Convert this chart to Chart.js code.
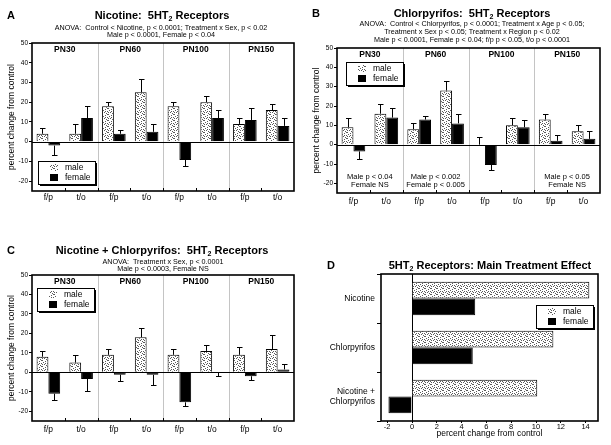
<!DOCTYPE html>
<html>
<head>
<meta charset="utf-8">
<script src="https://cdn.jsdelivr.net/npm/chart.js@4.4.0/dist/chart.umd.min.js"></script>
<style>
  body { margin: 0; background: #fff; }
  #wrap { position: relative; width: 611px; height: 445px; font-family: 'Liberation Sans', Arial, sans-serif; color: #000; }
  canvas { position: absolute; }
  .t { position: absolute; white-space: nowrap; transform: translate(-50%, -50%); text-align: center; }
  .ttl { font-weight: bold; font-size: 11px; }
  .sub { font-size: 7.2px; line-height: 7.8px; }
  .let { position: absolute; font-weight: bold; font-size: 11px; transform: translateY(-50%); }
  .ttl sub { font-size: 7px; vertical-align: -2px; line-height: 0; }
</style>
</head>
<body>
<div id="wrap">
  <canvas id="A" width="305" height="222" style="left:0;top:0"></canvas>
  <canvas id="B" width="306" height="222" style="left:305px;top:0"></canvas>
  <canvas id="C" width="305" height="223" style="left:0;top:222px"></canvas>
  <canvas id="D" width="306" height="223" style="left:305px;top:222px"></canvas>

  <div class="let" style="left:7px;top:15px">A</div>
  <div class="t ttl" style="left:162px;top:15px">Nicotine:&nbsp; 5HT<sub>2</sub> Receptors</div>
  <div class="t sub" style="left:161px;top:31.5px">ANOVA:&nbsp; Control &lt; Nicotine, p &lt; 0.0001; Treatment x Sex, p &lt; 0.02<br>Male p &lt; 0.0001, Female p &lt; 0.04</div>

  <div class="let" style="left:312px;top:13px">B</div>
  <div class="t ttl" style="left:472px;top:13px">Chlorpyrifos:&nbsp; 5HT<sub>2</sub> Receptors</div>
  <div class="t sub" style="left:472px;top:32px">ANOVA:&nbsp; Control &lt; Chlorpyrifos, p &lt; 0.0001; Treatment x Age p &lt; 0.05;<br>Treatment x Sex p &lt; 0.05; Treatment x Region p &lt; 0.02<br>Male p &lt; 0.0001, Female p &lt; 0.04; f/p p &lt; 0.05, t/o p &lt; 0.0001</div>

  <div class="let" style="left:7px;top:250px">C</div>
  <div class="t ttl" style="left:162px;top:250px">Nicotine + Chlorpyrifos:&nbsp; 5HT<sub>2</sub> Receptors</div>
  <div class="t sub" style="left:163px;top:265.7px">ANOVA:&nbsp; Treatment x Sex, p &lt; 0.0001<br>Male p &lt; 0.0003, Female NS</div>

  <div class="let" style="left:327px;top:265px">D</div>
  <div class="t ttl" style="left:490px;top:265px">5HT<sub>2</sub> Receptors: Main Treatment Effect</div>
</div>
<script>
// panels A-C: two regions per age group
const categories = ['f/p', 't/o', 'f/p', 't/o', 'f/p', 't/o', 'f/p', 't/o'];
const ageGroups = ['PN30', 'PN60', 'PN100', 'PN150'];
const yTicks = [-20, -10, 0, 10, 20, 30, 40, 50];

// A: nicotine (error = one-sided SEM, away from zero)
const nicMale = [4, 4, 18, 25, 18, 20, 9, 16];
const nicMaleErr = [3, 5, 2, 7, 2, 3, 3, 3];
const nicFemale = [-2, 12, 4, 5, -9.3, 12, 11, 8];
const nicFemaleErr = [5, 6, 2, 4, 3, 4, 6, 4];

// B: chlorpyrifos
const cpfMale = [9, 16, 8, 28, 0, 10, 13, 7];
const cpfMaleErr = [5, 5, 3, 5, 4, 4, 3, 3];
const cpfFemale = [-3.5, 14, 13, 11, -10.5, 9, 2, 3];
const cpfFemaleErr = [4, 5, 2, 5, 2.8, 4, 3, 4];

// C: nicotine + chlorpyrifos
const bothMale = [8, 5, 9, 18, 9, 11, 9, 12];
const bothMaleErr = [3, 4, 3, 5, 3, 3, 4, 7];
const bothFemale = [-11, -3.4, -1.2, -1.3, -15.4, -0.3, -2, 1.5];
const bothFemaleErr = [3.3, 6, 3, 5, 2, 1.4, 1.7, 3];

// D: main treatment effect
const treatments = ['Nicotine', 'Chlorpyrifos', ['Nicotine +', 'Chlorpyrifos']];
const mainMale = [14.3, 11.4, 10.1];
const mainFemale = [5.1, 4.9, -1.9];
const xTicksD = [-2, 0, 2, 4, 6, 8, 10, 12, 14];

const notesB = [
  { group: 0, lines: ['Male p < 0.04', 'Female NS'] },
  { group: 1, lines: ['Male p < 0.002', 'Female p < 0.005'] },
  { group: 3, lines: ['Male p < 0.05', 'Female NS'] }
];

Chart.defaults.font.family = "'Liberation Sans', Arial, sans-serif";
Chart.defaults.color = '#000';
const FONT = "'Liberation Sans', Arial, sans-serif";

// stippled fill for male bars
function stipple() {
  const c = document.createElement('canvas');
  c.width = 6; c.height = 6;
  const g = c.getContext('2d');
  g.fillStyle = '#fff';
  g.fillRect(0, 0, 6, 6);
  g.fillStyle = '#5a5a5a';
  [[0, 0], [3, 1], [1, 2], [5, 3], [2, 4], [4, 5], [0, 4], [5, 0], [3, 3]].forEach(p => g.fillRect(p[0], p[1], 1, 1));
  return g.createPattern(c, 'repeat');
}
const dots = stipple();

// extra drawing per panel (legend spot etc)
const extras = {
  A: { groups: ageGroups, legend: { fromBottom: 30, dx: 6 } },
  B: { groups: ageGroups, legend: { dy: 14, dx: 9 }, notes: notesB },
  C: { groups: ageGroups, legend: { dy: 13, dx: 5 } },
  D: { horizontal: true, legend: { dy: 31, fromRight: 62 } }
};

function seg(ctx, x1, y1, x2, y2) {
  ctx.beginPath(); ctx.moveTo(x1, y1); ctx.lineTo(x2, y2); ctx.stroke();
}

function drawLegend(ctx, x, y) {
  const w = 57, h = 23;
  ctx.fillStyle = '#000';
  ctx.fillRect(x + 2, y + 2, w, h);
  ctx.fillStyle = '#fff';
  ctx.fillRect(x, y, w, h);
  ctx.strokeStyle = '#000'; ctx.lineWidth = 1;
  ctx.strokeRect(x + 0.5, y + 0.5, w, h);
  ctx.fillStyle = dots;
  ctx.fillRect(x + 12, y + 3, 8, 7);
  ctx.fillStyle = '#000';
  ctx.fillRect(x + 12, y + 13, 8, 7);
  ctx.font = '8.5px ' + FONT;
  ctx.textAlign = 'left'; ctx.textBaseline = 'middle';
  ctx.fillText('male', x + 27, y + 7);
  ctx.fillText('female', x + 27, y + 17);
}

const decor = {
  id: 'decor',
  beforeDatasetsDraw(chart) {
    const o = extras[chart.canvas.id];
    const { ctx, chartArea: a } = chart;
    const xs = chart.scales.x, ys = chart.scales.y;
    ctx.save();
    if (o.groups) {
      ctx.strokeStyle = '#c4c4c4'; ctx.lineWidth = 1;
      for (let g = 1; g < o.groups.length; g++) {
        const x = Math.round((xs.getPixelForValue(2 * g - 1) + xs.getPixelForValue(2 * g)) / 2) + 0.5;
        seg(ctx, x, a.top, x, a.bottom);
      }
    }
    ctx.strokeStyle = '#000'; ctx.lineWidth = 1;
    if (o.horizontal) {
      const x = Math.round(xs.getPixelForValue(0)) + 0.5;
      seg(ctx, x, a.top, x, a.bottom);
    } else {
      const y = Math.round(ys.getPixelForValue(0)) + 0.5;
      seg(ctx, a.left, y, a.right, y);
    }
    ctx.restore();
  },
  afterDatasetsDraw(chart) {
    const o = extras[chart.canvas.id];
    const { ctx, chartArea: a } = chart;
    const xs = chart.scales.x, ys = chart.scales.y;
    ctx.save();
    ctx.strokeStyle = '#000'; ctx.lineWidth = 1;

    // one-sided error bars
    chart.data.datasets.forEach((ds, i) => {
      if (!ds.err) return;
      chart.getDatasetMeta(i).data.forEach((bar, j) => {
        const v = ds.data[j];
        const s = v < 0 ? -1 : 1;
        const y1 = Math.round(ys.getPixelForValue(v + s * ds.err[j])) + 0.5;
        const x = Math.round(bar.x) + 0.5;
        seg(ctx, x, bar.y, x, y1);
        seg(ctx, x - 2.5, y1, x + 3, y1);
      });
    });

    // inward ticks between categories
    if (o.groups) {
      for (let i = 0; i < categories.length - 1; i++) {
        const x = Math.round((xs.getPixelForValue(i) + xs.getPixelForValue(i + 1)) / 2) + 0.5;
        seg(ctx, x, a.bottom, x, a.bottom - 3);
      }
      ctx.fillStyle = '#000';
      ctx.font = 'bold 8.5px ' + FONT;
      ctx.textAlign = 'center'; ctx.textBaseline = 'middle';
      o.groups.forEach((g, k) => {
        const x = (xs.getPixelForValue(2 * k) + xs.getPixelForValue(2 * k + 1)) / 2;
        ctx.fillText(g, x, a.top + 7);
      });
    }

    if (o.notes) {
      ctx.font = '7.5px ' + FONT;
      ctx.textAlign = 'center'; ctx.textBaseline = 'middle';
      o.notes.forEach(n => {
        const x = (xs.getPixelForValue(2 * n.group) + xs.getPixelForValue(2 * n.group + 1)) / 2;
        ctx.fillText(n.lines[0], x, a.bottom - 16);
        ctx.fillText(n.lines[1], x, a.bottom - 8);
      });
    }

    // frame
    ctx.lineWidth = 1.6;
    ctx.strokeRect(a.left, a.top, a.width, a.height);

    const L = o.legend;
    const lx = L.fromRight ? a.right - L.fromRight : a.left + L.dx;
    const ly = L.fromBottom ? a.bottom - L.fromBottom : a.top + L.dy;
    drawLegend(ctx, Math.round(lx), Math.round(ly));
    ctx.restore();
  }
};

function barPanel(id, male, maleErr, female, femaleErr, lay) {
  return new Chart(document.getElementById(id), {
    type: 'bar',
    data: {
      labels: categories,
      datasets: [
        { label: 'male', data: male, err: maleErr, backgroundColor: dots, borderColor: '#000', borderWidth: 1 },
        { label: 'female', data: female, err: femaleErr, backgroundColor: '#000', borderColor: '#000', borderWidth: 1 }
      ]
    },
    options: {
      responsive: false,
      animation: false,
      categoryPercentage: 0.72,
      barPercentage: 1,
      layout: { padding: { top: lay.top, right: 11, left: 0, bottom: 0 } },
      plugins: { legend: { display: false }, tooltip: { enabled: false } },
      scales: {
        x: {
          grid: { display: false, drawTicks: false },
          border: { display: false },
          ticks: { font: { size: 8.5 }, padding: lay.xpad, maxRotation: 0, autoSkip: false },
          afterFit: s => { s.height = lay.xh; }
        },
        y: {
          min: -25, max: 50,
          afterBuildTicks: s => { s.ticks = yTicks.map(v => ({ value: v })); },
          ticks: { font: { size: 6.5 }, padding: 1 },
          grid: { drawOnChartArea: false, tickLength: 3, color: '#000' },
          border: { display: false },
          title: { display: true, text: 'percent change from control', font: { size: 8.5 }, padding: { top: 7, bottom: 0 } },
          afterFit: s => { s.width = 32; }
        }
      }
    },
    plugins: [decor]
  });
}

barPanel('A', nicMale, nicMaleErr, nicFemale, nicFemaleErr, { top: 43, xh: 31, xpad: 2 });
barPanel('B', cpfMale, cpfMaleErr, cpfFemale, cpfFemaleErr, { top: 48, xh: 29, xpad: 4 });
barPanel('C', bothMale, bothMaleErr, bothFemale, bothFemaleErr, { top: 53, xh: 24, xpad: 4 });

new Chart(document.getElementById('D'), {
  type: 'bar',
  data: {
    labels: treatments,
    datasets: [
      { label: 'male', data: mainMale, backgroundColor: dots, borderColor: '#000', borderWidth: 1 },
      { label: 'female', data: mainFemale, backgroundColor: '#000', borderColor: '#000', borderWidth: 1 }
    ]
  },
  options: {
    indexAxis: 'y',
    responsive: false,
    animation: false,
    categoryPercentage: 0.68,
    barPercentage: 1,
    layout: { padding: { top: 52, right: 13, left: 0, bottom: 0 } },
    plugins: { legend: { display: false }, tooltip: { enabled: false } },
    scales: {
      x: {
        min: -2.5, max: 15,
        afterBuildTicks: s => { s.ticks = xTicksD.map(v => ({ value: v })); },
        ticks: { font: { size: 7.5 }, padding: -1 },
        grid: { drawOnChartArea: false, tickLength: 2, color: '#000' },
        border: { display: false },
        title: { display: true, text: 'percent change from control', font: { size: 8.5 }, padding: { top: 0, bottom: 6 } },
        afterFit: s => { s.height = 24; }
      },
      y: {
        grid: { drawOnChartArea: false, tickLength: 4, color: '#000', offset: true },
        border: { display: false },
        ticks: { font: { size: 8.5 }, padding: 2 },
        afterFit: s => { s.width = 76; }
      }
    }
  },
  plugins: [decor]
});
</script>
</body>
</html>
